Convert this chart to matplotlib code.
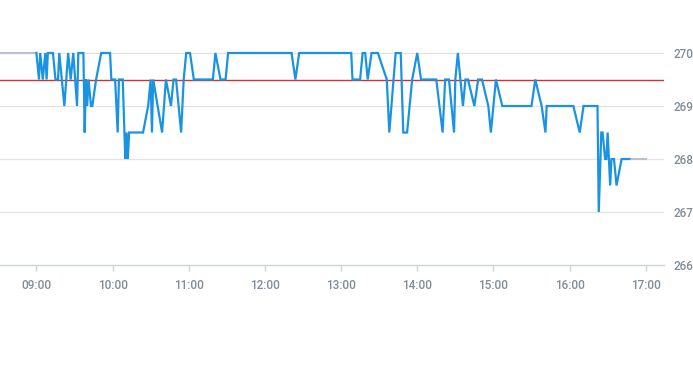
import matplotlib
matplotlib.use("Agg")
import matplotlib.pyplot as plt
import matplotlib.dates as mdates
import pandas as pd

# intraday price (blue), session 09:00 - 16:47
times = ["09:00", "09:02", "09:03", "09:05", "09:07", "09:08", "09:09", "09:13", "09:15", "09:17",
         "09:18", "09:20", "09:22", "09:25", "09:27", "09:29", "09:32", "09:33", "09:37", "09:38",
         "09:39", "09:40", "09:41", "09:43", "09:44", "09:47", "09:51", "09:58", "09:59", "10:02",
         "10:04", "10:05", "10:08", "10:10", "10:11", "10:12", "10:13", "10:24", "10:28", "10:30",
         "10:31", "10:32", "10:39", "10:42", "10:46", "10:48", "10:50", "10:54", "10:56", "10:58",
         "11:01", "11:04", "11:19", "11:21", "11:25", "11:29", "11:31", "12:21", "12:24", "12:27",
         "13:08", "13:09", "13:15", "13:17", "13:19", "13:21", "13:24", "13:29", "13:36", "13:38",
         "13:43", "13:47", "13:49", "13:52", "13:56", "14:00", "14:03", "14:15", "14:20", "14:22",
         "14:25", "14:29", "14:30", "14:32", "14:36", "14:38", "14:40", "14:45", "14:48", "14:51",
         "14:56", "14:58", "15:02", "15:07", "15:30", "15:33", "15:38", "15:41", "15:42", "16:03",
         "16:08", "16:11", "16:22", "16:23", "16:25", "16:26", "16:28", "16:29", "16:30", "16:32",
         "16:33", "16:35", "16:37", "16:41", "16:47"]
prices = [270, 269.5, 270, 269.5, 270, 269.5, 270, 270, 269.5, 269.5,
          270, 269.5, 269, 270, 269.5, 270, 269, 270, 270, 268.5,
          269.5, 269, 269.5, 269, 269, 269.5, 270, 270, 269.5, 269.5,
          268.5, 269.5, 269.5, 268, 268.5, 268, 268.5, 268.5, 269, 269.5,
          268.5, 269.5, 268.5, 269.5, 269, 269.5, 269.5, 268.5, 269.5, 270,
          270, 269.5, 269.5, 270, 269.5, 269.5, 270, 270, 269.5, 270,
          270, 269.5, 269.5, 270, 270, 269.5, 270, 270, 269.5, 268.5,
          270, 270, 268.5, 268.5, 269.5, 270, 269.5, 269.5, 268.5, 269.5,
          269.5, 268.5, 269.5, 270, 269, 269.5, 269.5, 269, 269.5, 269.5,
          269, 268.5, 269.5, 269, 269, 269.5, 269, 268.5, 269, 269,
          268.5, 269, 269, 267, 268.5, 268.5, 268, 268, 268.5, 267.5,
          268, 268, 267.5, 268, 268]

# grey flat segments before and after the session
pre_times = ["08:31", "09:00"]
pre_prices = [270, 270]
post_times = ["16:47", "17:00"]
post_prices = [268, 268]

ref_price = 269.5
y_ticks = [266, 267, 268, 269, 270]
x_ticks = ["09:00", "10:00", "11:00", "12:00", "13:00", "14:00", "15:00", "16:00", "17:00"]


def to_dt(lst):
    return pd.to_datetime(["2024-01-02 " + t for t in lst])


fig = plt.figure(figsize=(6.93, 3.65), dpi=100)
ax = fig.add_axes([0, 1 - 265 / 365, 664 / 693, 265 / 365])

for y in y_ticks[1:]:
    ax.axhline(y, color="#e3e3e3", lw=0.9, zorder=0)
ax.axhline(ref_price, color="#cc3333", lw=1.0, zorder=1)

ax.plot(to_dt(pre_times), pre_prices, color="#b8c2cc", lw=1.5, zorder=2)
ax.plot(to_dt(post_times), post_prices, color="#b8c2cc", lw=1.5, zorder=2)
ax.plot(to_dt(times), prices, color="#1a93e3", lw=1.6, zorder=3, solid_joinstyle="miter")

t0 = pd.Timestamp("2024-01-02 09:00")
ax.set_xlim(t0 - pd.Timedelta(minutes=28.7), t0 + pd.Timedelta(minutes=494.4))
ax.set_ylim(266, 271)

ax.set_xticks(to_dt(x_ticks))
ax.xaxis.set_major_formatter(mdates.DateFormatter("%H:%M"))
ax.set_yticks(y_ticks)
ax.yaxis.tick_right()

for s in ["top", "left", "right"]:
    ax.spines[s].set_visible(False)
ax.spines["bottom"].set_color("#ccd3db")
ax.spines["bottom"].set_linewidth(1.0)

ax.tick_params(axis="x", colors="#ccd3db", length=4, width=1, labelcolor="#7f8c99",
               labelsize=8.5, pad=6)
ax.tick_params(axis="y", length=0, labelcolor="#7f8c99", labelsize=8.5, pad=7)
for lbl in ax.get_xticklabels() + ax.get_yticklabels():
    lbl.set_fontfamily("Roboto")
    lbl.set_fontweight("medium")

fig.savefig("out.png", dpi=100)
